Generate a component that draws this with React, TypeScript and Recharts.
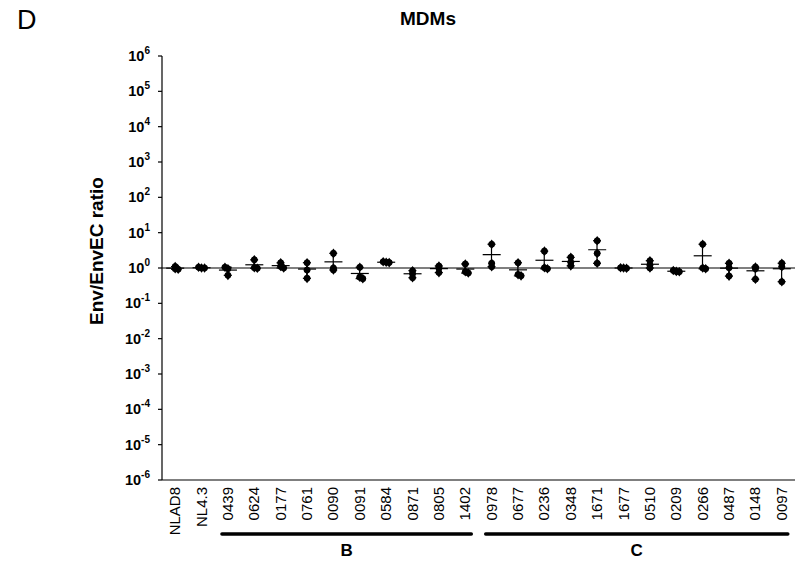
import { ComposedChart, Bar, Line, XAxis, YAxis, ReferenceLine } from "recharts";

const isolates = [
  "NLAD8", "NL4.3", "0439", "0624", "0177", "0761", "0090", "0091", "0584", "0871", "0805", "1402",
  "0978", "0677", "0236", "0348", "1671", "1677", "0510", "0209", "0266", "0487", "0148", "0097",
];

const rep1 = [1.1, 1.05, 1.05, 1.7, 1.4, 1.41, 2.6, 1.05, 1.5, 0.84, 1.14, 1.3, 4.7, 1.41, 3.0, 2.0, 5.9, 1.02, 1.61, 0.85, 4.7, 1.36, 1.07, 1.36];
const rep2 = [0.95, 1.0, 0.95, 1.02, 1.1, 0.88, 1.0, 0.55, 1.45, 0.69, 1.0, 0.78, 1.36, 0.65, 1.02, 1.45, 2.6, 1.0, 1.22, 0.8, 1.0, 1.02, 0.95, 1.09];
const rep3 = [0.92, 1.0, 0.62, 0.98, 1.0, 0.51, 0.88, 0.5, 1.42, 0.53, 0.74, 0.72, 1.09, 0.6, 0.95, 1.15, 1.36, 0.98, 1.0, 0.78, 0.95, 0.59, 0.48, 0.41];

const yTicks = [1e-6, 1e-5, 1e-4, 1e-3, 1e-2, 1e-1, 1, 1e1, 1e2, 1e3, 1e4, 1e5, 1e6];

const groups = [
  { label: "B", from: "0439", to: "1402" },
  { label: "C", from: "0978", to: "0097" },
];

const data = isolates.map((name, i) => {
  const vals = [rep1[i], rep2[i], rep3[i]];
  const mean = vals.reduce((a, b) => a + b, 0) / vals.length;
  return {
    name,
    r1: rep1[i],
    r2: rep2[i],
    r3: rep3[i],
    mean,
    range: [Math.min(...vals), Math.max(...vals)],
  };
});

const W = 810;
const H = 573;
const LEFT = 162;
const RIGHT = 15;
const TOP = 56;
const BOTTOM = 93;
const BAND = (W - LEFT - RIGHT) / isolates.length;
const FONT = "'Liberation Sans', Arial, Helvetica, sans-serif";

// points that sit on top of each other get nudged sideways a little
const makeDiamond = (key: "r1" | "r2" | "r3", k: number) => (props: any) => {
  const { cx, cy, payload } = props;
  if (cx == null || cy == null) return <g key={`${key}-${props.index}`} />;
  const vals = [payload.r1, payload.r2, payload.r3];
  const close = vals.some((v, j) => j !== k && Math.abs(Math.log10(v / vals[k])) < 0.05);
  const x = close ? cx + (k - 1) * 3 : cx;
  return (
    <g key={`${key}-${props.index}`}>
      <circle cx={x} cy={cy} r={3.3} fill="#000" />
      <path d={`M${x},${cy - 4.8} L${x + 3.6},${cy} L${x},${cy + 4.8} L${x - 3.6},${cy} Z`} fill="#000" />
    </g>
  );
};

const MeanDot = (props: any) => {
  const { cx, cy } = props;
  if (cx == null || cy == null) return <g key={`m-${props.index}`} />;
  return <line key={`m-${props.index}`} x1={cx - 9} x2={cx + 9} y1={cy} y2={cy} stroke="#000" strokeWidth={1.2} />;
};

const RangeShape = (props: any) => {
  const { x, y, width, height } = props;
  const cx = x + width / 2;
  const top = Math.min(y, y + height);
  const bot = Math.max(y, y + height);
  return (
    <g>
      <line x1={cx} x2={cx} y1={top} y2={bot} stroke="#000" strokeWidth={1.2} />
      <line x1={cx - 4} x2={cx + 4} y1={top} y2={top} stroke="#000" strokeWidth={1.2} />
      <line x1={cx - 4} x2={cx + 4} y1={bot} y2={bot} stroke="#000" strokeWidth={1.2} />
    </g>
  );
};

const YTick = (props: any) => {
  const { y, payload } = props;
  const exp = Math.round(Math.log10(payload.value));
  return (
    <text x={150} y={y + 5} textAnchor="end" fontFamily={FONT} fontWeight="bold" fontSize={14.5} fill="#000">
      <tspan>10</tspan>
      <tspan dy={-7} fontSize={10}>{exp}</tspan>
    </text>
  );
};

const XTick = (props: any) => {
  const { x, payload } = props;
  const label = payload.value as string;
  const grp = groups.find((g) => g.from === label);
  let groupMark = null;
  if (grp) {
    const i0 = isolates.indexOf(grp.from);
    const i1 = isolates.indexOf(grp.to);
    const x0 = x - 6;
    const x1 = x + (i1 - i0) * BAND + 6;
    groupMark = (
      <g>
        <line x1={x0} x2={x1} y1={534} y2={534} stroke="#000" strokeWidth={3.5} strokeLinecap="round" />
        <text x={(x0 + x1) / 2} y={556} textAnchor="middle" fontFamily={FONT} fontWeight="bold" fontSize={17} fill="#000">
          {grp.label}
        </text>
      </g>
    );
  }
  return (
    <g>
      <text
        x={x + 5}
        y={487}
        transform={`rotate(-90, ${x + 5}, 487)`}
        textAnchor="end"
        fontFamily={FONT}
        fontSize={15}
        fill="#000"
      >
        {label}
      </text>
      {groupMark}
    </g>
  );
};

export default function App() {
  return (
    <div style={{ position: "absolute", left: 0, top: 0, width: W, height: H, background: "#fff" }}>
      <svg width={W} height={H} style={{ position: "absolute", left: 0, top: 0 }}>
        <text x={17} y={29} fontFamily={FONT} fontSize={27} fill="#000">D</text>
        <text x={428} y={25} textAnchor="middle" fontFamily={FONT} fontWeight="bold" fontSize={19} fill="#000">
          MDMs
        </text>
        <text
          x={103}
          y={251}
          transform="rotate(-90, 103, 251)"
          textAnchor="middle"
          fontFamily={FONT}
          fontWeight="bold"
          fontSize={19}
          fill="#000"
        >
          Env/EnvEC ratio
        </text>
      </svg>
      <div style={{ position: "absolute", left: 0, top: 0 }}>
        <ComposedChart width={W} height={H} data={data} margin={{ top: TOP, right: RIGHT, bottom: 0, left: 0 }}>
          <XAxis
            dataKey="name"
            type="category"
            interval={0}
            height={BOTTOM}
            tickLine={false}
            axisLine={{ stroke: "#000", strokeWidth: 1.2 }}
            tick={<XTick />}
          />
          <YAxis
            scale="log"
            domain={[1e-6, 1e6]}
            ticks={yTicks}
            allowDataOverflow
            width={LEFT}
            tickSize={4}
            tickLine={{ stroke: "#000", strokeWidth: 1.2 }}
            axisLine={{ stroke: "#000", strokeWidth: 1.2 }}
            tick={<YTick />}
          />
          <ReferenceLine y={1} stroke="#000" strokeWidth={1.2} ifOverflow="extendDomain" />
          <Bar dataKey="range" barSize={8} shape={<RangeShape />} isAnimationActive={false} />
          <Line dataKey="mean" stroke="none" dot={MeanDot} activeDot={false} isAnimationActive={false} />
          <Line dataKey="r1" stroke="none" dot={makeDiamond("r1", 0)} activeDot={false} isAnimationActive={false} />
          <Line dataKey="r2" stroke="none" dot={makeDiamond("r2", 1)} activeDot={false} isAnimationActive={false} />
          <Line dataKey="r3" stroke="none" dot={makeDiamond("r3", 2)} activeDot={false} isAnimationActive={false} />
        </ComposedChart>
      </div>
    </div>
  );
}
